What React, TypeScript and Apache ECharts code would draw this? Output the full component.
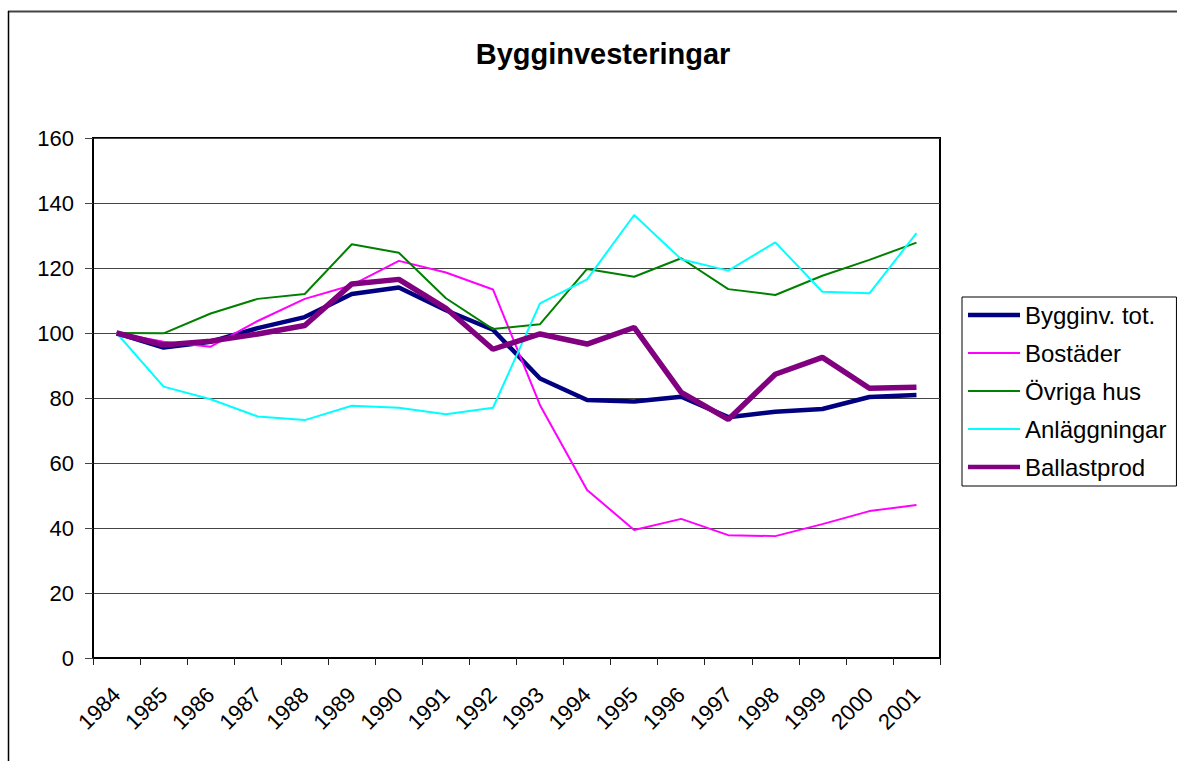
import React, { useEffect, useRef } from "react";
import * as echarts from "echarts";

const years = ["1984","1985","1986","1987","1988","1989","1990","1991","1992","1993","1994","1995","1996","1997","1998","1999","2000","2001"];
const bygginvTot = [100, 95.5, 97.3, 101.5, 104.9, 112, 114, 107, 101, 86, 79.4, 78.9, 80.4, 74.1, 75.8, 76.6, 80.3, 80.9];
const bostader = [100, 97.3, 95.8, 103.7, 110.5, 114.7, 122.2, 118.6, 113.4, 77.8, 51.7, 39.4, 42.8, 37.8, 37.5, 41.2, 45.2, 47.1];
const ovrigaHus = [100, 99.9, 106, 110.5, 112, 127.3, 124.7, 110.7, 101.2, 102.7, 119.7, 117.3, 123, 113.5, 111.7, 117.6, 122.5, 127.8];
const anlaggningar = [100, 83.5, 79.6, 74.3, 73.2, 77.6, 77, 75, 77, 109.1, 116.5, 136.3, 122.7, 119.2, 127.9, 112.7, 112.2, 130.7];
const ballastprod = [100, 96.3, 97.5, 99.7, 102.3, 115.1, 116.5, 107.6, 95, 99.7, 96.6, 101.7, 81.7, 73.4, 87.3, 92.5, 83, 83.3];

const FONT = "'Liberation Sans', Arial, sans-serif";

const THICK = "path://M0,0 L52,0 L52,4.5 L0,4.5 Z";
const THIN = "path://M0,0 L52,0 L52,2 L0,2 Z";

export default function App() {
  const ref = useRef<HTMLDivElement>(null);
  useEffect(() => {
    if (!ref.current) return;
    const chart = echarts.init(ref.current, undefined, { renderer: "svg" });
    const mk = (name: string, data: number[], color: string, width: number) => ({
      name,
      type: "line",
      data,
      symbol: "none",
      showSymbol: false,
      lineStyle: { color, width },
      itemStyle: { color },
    });
    chart.setOption({
      animation: false,
      backgroundColor: "#fff",
      title: {
        text: "Bygginvesteringar",
        left: 603,
        top: 39,
        padding: 0,
        textAlign: "center",
        textStyle: { fontFamily: FONT, fontSize: 29, fontWeight: "bold", color: "#000" },
      },
      graphic: [
        { type: "line", shape: { x1: 8, y1: 11.5, x2: 1177, y2: 11.5 }, style: { stroke: "#444", lineWidth: 2 } },
        { type: "line", shape: { x1: 8.5, y1: 11, x2: 8.5, y2: 761 }, style: { stroke: "#000", lineWidth: 1.5 } },
      ],
      legend: {
        orient: "vertical",
        left: 962,
        top: 297,
        padding: [6, 10, 7, 6],
        itemGap: 14,
        itemWidth: 52,
        itemHeight: 14,
        symbolKeepAspect: true,
        borderColor: "#000",
        borderWidth: 1,
        backgroundColor: "#fff",
        textStyle: { fontFamily: FONT, fontSize: 24, color: "#000", lineHeight: 24 },
        data: [
          { name: "Bygginv. tot.", icon: THICK },
          { name: "Bostäder", icon: THIN },
          { name: "Övriga hus", icon: THIN },
          { name: "Anläggningar", icon: THIN },
          { name: "Ballastprod", icon: THICK },
        ],
      },
      grid: {
        left: 93,
        top: 138,
        width: 847,
        height: 520,
        show: true,
        borderColor: "#000",
        borderWidth: 2,
        backgroundColor: "#fff",
        containLabel: false,
      },
      xAxis: {
        type: "category",
        data: years,
        boundaryGap: true,
        axisLine: { show: true, lineStyle: { color: "#000", width: 2 } },
        axisTick: { show: true, length: 7, alignWithLabel: false, interval: 0, lineStyle: { color: "#222" } },
        axisLabel: { interval: 0, rotate: 45, margin: 33, fontFamily: FONT, fontSize: 22, color: "#000" },
        splitLine: { show: false },
      },
      yAxis: {
        type: "value",
        min: 0,
        max: 160,
        interval: 20,
        axisLine: { show: true, lineStyle: { color: "#000", width: 2 } },
        axisTick: { show: true, length: 8, lineStyle: { color: "#444" } },
        axisLabel: { margin: 19, fontFamily: FONT, fontSize: 22, color: "#000" },
        splitLine: { show: true, lineStyle: { color: "#444", width: 1 } },
      },
      series: [
        mk("Bygginv. tot.", bygginvTot, "#000080", 4.5),
        mk("Bostäder", bostader, "#FF00FF", 2),
        mk("Övriga hus", ovrigaHus, "#008000", 2),
        mk("Anläggningar", anlaggningar, "#00FFFF", 2),
        mk("Ballastprod", ballastprod, "#800080", 5.5),
      ],
    });
    return () => chart.dispose();
  }, []);
  return <div ref={ref} style={{ position: "fixed", left: 0, top: 0, width: 1177, height: 761 }} />;
}
